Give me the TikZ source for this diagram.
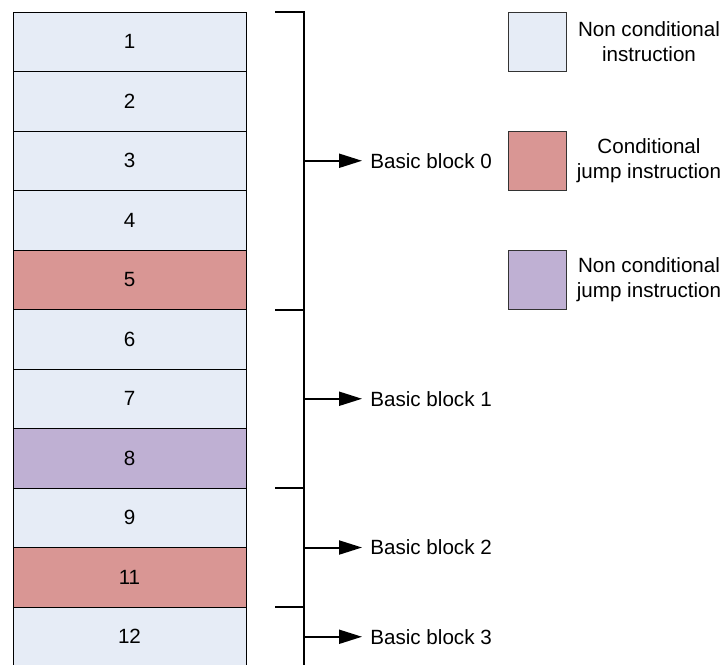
\documentclass[tikz,border=0pt]{standalone}
\usepackage{fontspec}
\setmainfont{Liberation Sans}
\usetikzlibrary{positioning}
\usetikzlibrary{calc}
\usetikzlibrary{arrows.meta}
\definecolor{plainfill}{RGB}{230,236,246}
\definecolor{condfill}{RGB}{217,150,148}
\definecolor{jumpfill}{RGB}{191,176,211}
\tikzset{
	instr/.style = {
		rectangle,
		draw=black,
		line width=0.5pt,
		inner sep=0pt,
		outer sep=0pt,
		minimum width=116.5pt,
		minimum height=29.75pt,
		font=\fontsize{10.3}{12.5}\selectfont
	},
	node_plain/.style = {
		instr,
		fill=plainfill
	},
	node_cond/.style = {
		instr,
		fill=condfill
	},
	node_jump/.style = {
		instr,
		fill=jumpfill
	},
	node_key/.style = {
		instr,
		draw=black!80,
		minimum width=29pt
	},
	keytext/.style = {
		align=center,
		inner sep=0pt,
		font=\fontsize{10.3}{12.5}\selectfont
	},
	blocklabel/.style = {
		anchor=west,
		inner sep=4pt,
		font=\fontsize{10.3}{12.5}\selectfont
	},
	bracket/.style = {
		line width=1pt
	}
}
\begin{document}
\begin{tikzpicture}[>={Triangle[length=11.5pt,width=7pt]}]
\useasboundingbox (0,0) rectangle (363pt,-332pt);
% instruction rows
\node [node_plain, anchor=north west] (r1) at (6.5pt,-6pt) {1};
\node [node_plain, below=0pt of r1] (r2) {2};
\node [node_plain, below=0pt of r2] (r3) {3};
\node [node_plain, below=0pt of r3] (r4) {4};
\node [node_cond, below=0pt of r4] (r5) {5};
\node [node_plain, below=0pt of r5] (r6) {6};
\node [node_plain, below=0pt of r6] (r7) {7};
\node [node_jump, below=0pt of r7] (r8) {8};
\node [node_plain, below=0pt of r8] (r9) {9};
\node [node_cond, below=0pt of r9] (r11) {11};
\node [node_plain, below=0pt of r11] (r12) {12};
% legend
\node [node_key, fill=plainfill, right=131pt of r1] (k0) {};
\node [keytext] (k0t) at ([xshift=41.5pt]k0.east) {Non conditional\\instruction};
\node [node_key, fill=condfill, right=131pt of r3] (k1) {};
\node [keytext] (k1t) at ([xshift=41.5pt]k1.east) {Conditional\\jump instruction};
\node [node_key, fill=jumpfill, right=131pt of r5] (k2) {};
\node [keytext] (k2t) at ([xshift=41.5pt]k2.east) {Non conditional\\jump instruction};
% bracket
\coordinate (t0) at ([xshift=14.5pt]r1.north east);
\coordinate (v0) at ([xshift=29pt]r1.north east);
\coordinate (t1) at ([xshift=14.5pt]r5.south east);
\coordinate (v1) at ([xshift=29pt]r5.south east);
\coordinate (t2) at ([xshift=14.5pt]r8.south east);
\coordinate (v2) at ([xshift=29pt]r8.south east);
\coordinate (t3) at ([xshift=14.5pt]r11.south east);
\coordinate (v3) at ([xshift=29pt]r11.south east);
\coordinate (vend) at ([xshift=29pt]r12.south east);
\draw [bracket] (t0) -- (v0) -- (vend);
\draw [bracket] (t1) -- (v1);
\draw [bracket] (t2) -- (v2);
\draw [bracket] (t3) -- (v3);
% basic blocks
\coordinate (m0) at ($(v0)!0.5!(v1)$);
\coordinate (m1) at ($(v1)!0.5!(v2)$);
\coordinate (m2) at ($(v2)!0.5!(v3)$);
\coordinate (m3) at ($(v3)!0.5!(vend)$);
\node [blocklabel] (bb0) at ([xshift=29pt]m0) {Basic block 0};
\node [blocklabel] (bb1) at ([xshift=29pt]m1) {Basic block 1};
\node [blocklabel] (bb2) at ([xshift=29pt]m2) {Basic block 2};
\node [blocklabel] (bb3) at ([xshift=29pt]m3) {Basic block 3};
\draw [bracket,->] (m0) -- (bb0);
\draw [bracket,->] (m1) -- (bb1);
\draw [bracket,->] (m2) -- (bb2);
\draw [bracket,->] (m3) -- (bb3);
\end{tikzpicture}
\end{document}
